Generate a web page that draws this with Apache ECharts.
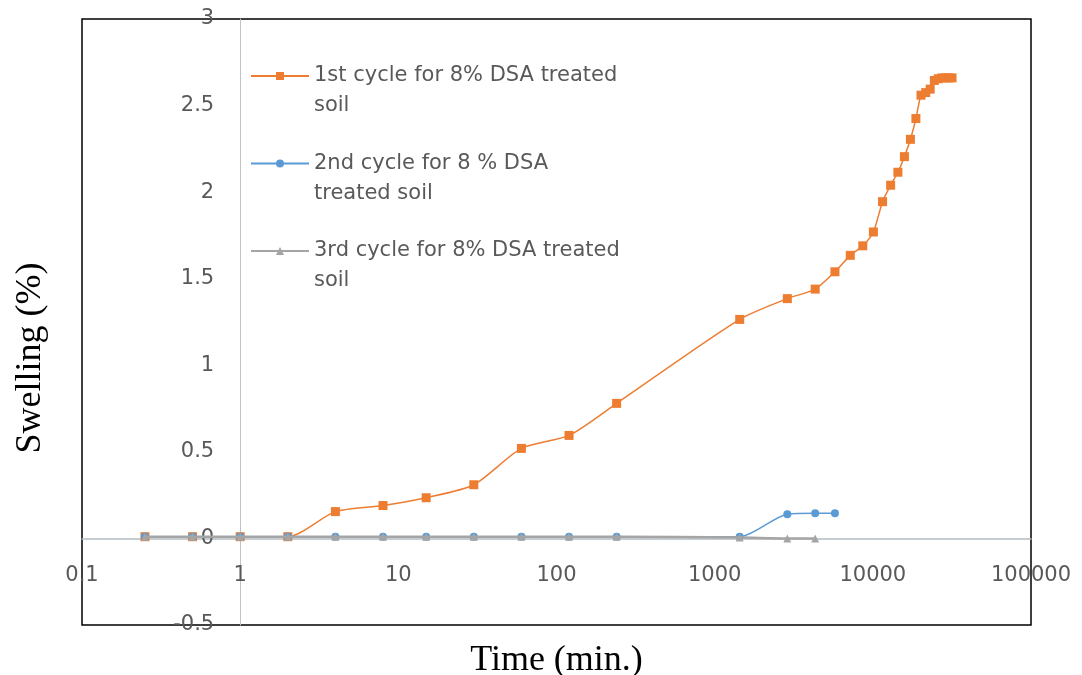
<!DOCTYPE html>
<html>
<head>
<meta charset="utf-8">
<script src="https://cdn.jsdelivr.net/npm/echarts@6/dist/echarts.min.js"></script>
<style>
  html, body { margin: 0; padding: 0; background: #ffffff; }
  #chart { width: 1082px; height: 675px; }
</style>
</head>
<body>
<div id="chart"></div>
<script>
// ---- data (time in minutes, swelling in %) ----
const seriesNames = [
  '1st cycle for 8% DSA treated soil',
  '2nd cycle for 8 % DSA treated soil',
  '3rd cycle for 8% DSA treated soil'
];
const legendLabels = [
  '1st cycle for 8% DSA treated\nsoil',
  '2nd cycle for 8 % DSA\ntreated soil',
  '3rd cycle for 8% DSA treated\nsoil'
];
const times1 = [0.25, 0.5, 1, 2, 4, 8, 15, 30, 60, 120, 240, 1440, 2880, 4320, 5760, 7200, 8640, 10080, 11520, 12960, 14400, 15840, 17280, 18720, 20160, 21600, 23040, 24480, 25920, 27360, 28800, 30240, 31680];
const swell1 = [0.01, 0.01, 0.01, 0.01, 0.155, 0.19, 0.235, 0.31, 0.52, 0.595, 0.78, 1.265, 1.385, 1.44, 1.54, 1.635, 1.69, 1.77, 1.945, 2.04, 2.115, 2.205, 2.305, 2.425, 2.56, 2.575, 2.595, 2.645, 2.655, 2.66, 2.66, 2.66, 2.66];
const times2 = [0.25, 0.5, 1, 2, 4, 8, 15, 30, 60, 120, 240, 1440, 2880, 4320, 5760];
const swell2 = [0.01, 0.01, 0.01, 0.01, 0.01, 0.01, 0.01, 0.01, 0.01, 0.01, 0.01, 0.01, 0.14, 0.145, 0.145];
const times3 = [0.25, 0.5, 1, 2, 4, 8, 15, 30, 60, 120, 240, 1440, 2880, 4320];
const swell3 = [0.01, 0.01, 0.01, 0.01, 0.01, 0.01, 0.01, 0.01, 0.01, 0.01, 0.01, 0.005, 0, 0];
const xMin = 0.1, xMax = 100000;
const yMin = -0.5, yMax = 3, yStep = 0.5;
const colors = ['#ED7D31', '#5B9BD5', '#A5A5A5'];

// ---- layout ----
const W = 1082, H = 675;
const gridLeft = 82, gridRight = 51, gridTop = 19, gridBottom = 50;
const plotW = W - gridLeft - gridRight;
const plotH = H - gridTop - gridBottom;
const decades = Math.log10(xMax) - Math.log10(xMin);
// y axis drawn where x = 1, x axis drawn where y = 0
const yAxisOffset = -plotW * (Math.log10(1) - Math.log10(xMin)) / decades;
const xAxisOffset = -plotH * (0 - yMin) / (yMax - yMin);

const zip = (xs, ys) => xs.map((x, i) => [x, ys[i]]);

const chart = echarts.init(document.getElementById('chart'), null, { renderer: 'canvas' });
const tickFont = 'DejaVu Sans';
const titleFont = 'Liberation Serif';
const option = {
  backgroundColor: '#ffffff',
  animation: false,
  grid: {
    left: gridLeft, right: gridRight, top: gridTop, bottom: gridBottom,
    containLabel: false, outerBoundsMode: 'none',
    show: true, borderColor: '#000000', borderWidth: 1.5, backgroundColor: 'transparent'
  },
  legend: {
    orient: 'vertical',
    left: 250, top: 31, padding: 0,
    itemWidth: 58, itemHeight: 10, itemGap: -2.5,
    data: seriesNames,
    formatter: name => '\n' + legendLabels[seriesNames.indexOf(name)],
    textStyle: {
      fontFamily: tickFont, fontSize: 21, color: '#595959', lineHeight: 30
    }
  },
  xAxis: {
    type: 'log', logBase: 10, min: xMin, max: xMax,
    position: 'bottom', offset: xAxisOffset,
    name: 'Time (min.)', nameLocation: 'middle', nameGap: 104,
    nameTextStyle: { fontFamily: titleFont, fontSize: 36, color: '#000000' },
    axisLine: { show: true, onZero: false, lineStyle: { color: '#b3bcc4', width: 1.5 } },
    axisTick: { show: false },
    splitLine: { show: false },
    minorSplitLine: { show: false },
    axisLabel: {
      fontFamily: tickFont, fontSize: 21, color: '#595959', margin: 27,
      formatter: v => String(+Number(v).toPrecision(6))
    }
  },
  yAxis: {
    type: 'value', min: yMin, max: yMax, interval: yStep,
    position: 'left', offset: yAxisOffset,
    name: '{t|Swelling (%)}', nameLocation: 'middle', nameGap: 192,
    nameTextStyle: {
      rich: { t: { fontFamily: titleFont, fontSize: 36, color: '#000000', padding: [0, 72, 0, 0] } }
    },
    axisLine: { show: true, onZero: false, lineStyle: { color: '#c3c3c3', width: 1 } },
    axisTick: { show: false },
    splitLine: { show: false },
    axisLabel: { fontFamily: tickFont, fontSize: 21, color: '#595959', margin: 26 }
  },
  series: [
    {
      name: seriesNames[0], type: 'line', data: zip(times1, swell1),
      smooth: 0.25, symbol: 'rect', symbolSize: 9, z: 2,
      itemStyle: { color: colors[0] },
      lineStyle: { color: colors[0], width: 1.5 }
    },
    {
      name: seriesNames[1], type: 'line', data: zip(times2, swell2),
      smooth: 0.25, symbol: 'circle', symbolSize: 8, z: 3,
      itemStyle: { color: colors[1] },
      lineStyle: { color: colors[1], width: 1.5 }
    },
    {
      name: seriesNames[2], type: 'line', data: zip(times3, swell3),
      smooth: 0.25, symbol: 'triangle', symbolSize: 8, z: 4,
      itemStyle: { color: colors[2] },
      lineStyle: { color: colors[2], width: 2.5 }
    }
  ]
};
chart.setOption(option);
</script>
</body>
</html>
